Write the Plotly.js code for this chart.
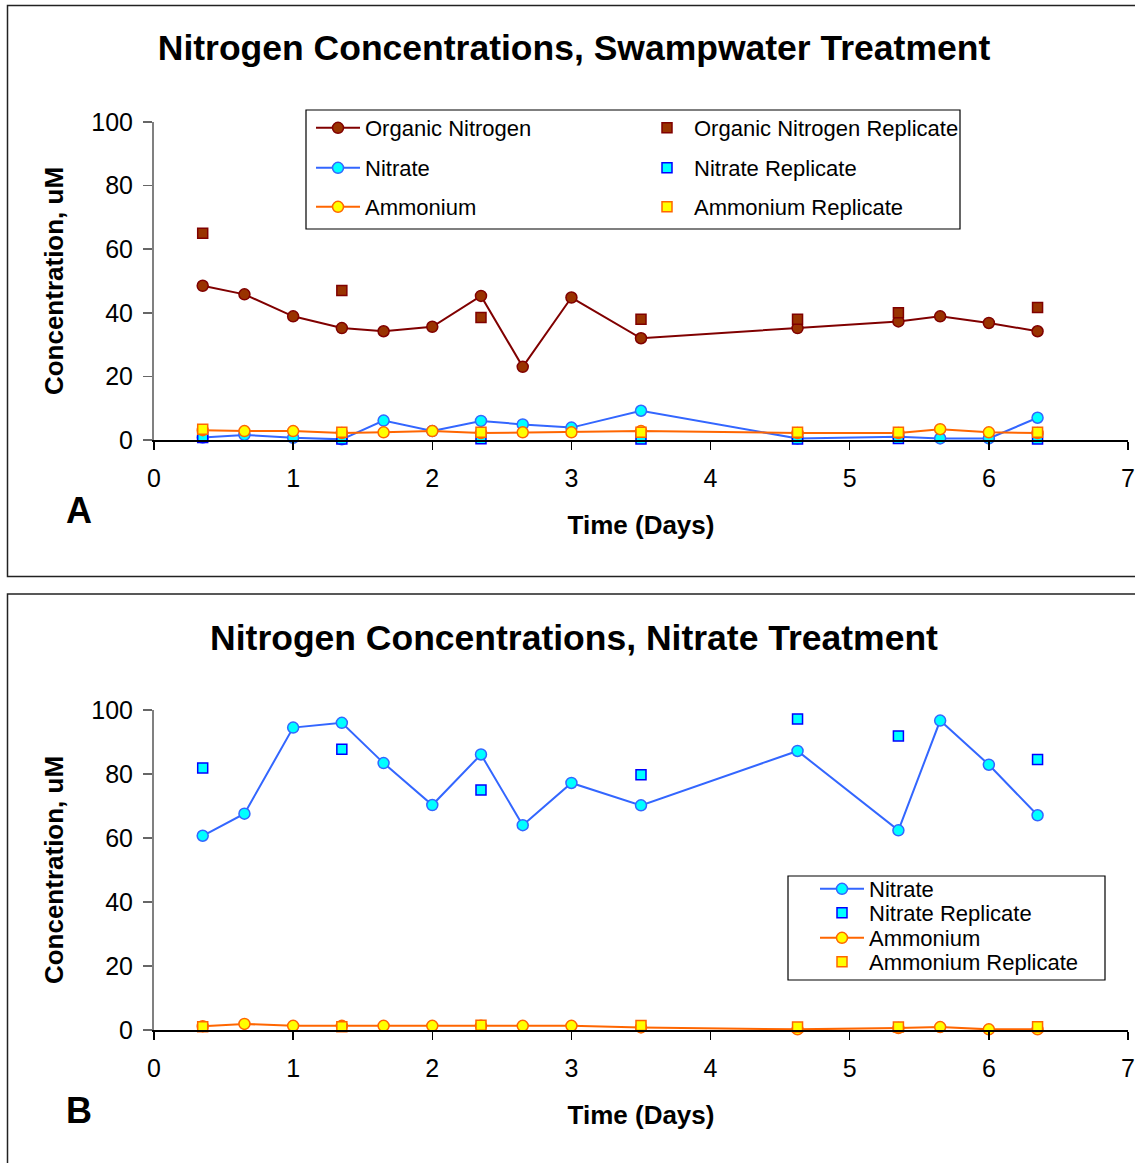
<!DOCTYPE html>
<html><head><meta charset="utf-8">
<script src="https://cdn.plot.ly/plotly-3.0.1.min.js"></script>
<style>body{margin:0;background:#fff;} #a,#b{position:absolute;left:0;width:1135px;} #a{top:0;height:586px;} #b{top:586px;height:577px;}</style>
</head><body><div id="a"></div><div id="b"></div>
<script>
// ---- data ----
var timeAll = [0.35,0.65,1.0,1.35,1.65,2.0,2.35,2.65,3.0,3.5,4.625,5.35,5.65,6.0,6.35];
var timeRep = [0.35,1.35,2.35,3.5,4.625,5.35,6.35];

var orgN_A = [48.5,45.8,38.9,35.2,34.2,35.6,45.3,23.0,44.8,32.0,35.2,37.3,38.9,36.8,34.2];
var orgNRep_A = [65.0,47.0,38.5,38.0,38.0,40.0,41.7];
var nitrate_A = [0.8,1.6,0.7,0.2,6.1,2.8,6.0,4.9,3.9,9.2,0.5,1.0,0.5,0.5,7.0];
var nitrateRep_A = [0.8,0.3,0.4,0.3,0.3,0.5,0.3];
var ammonium_A = [3.1,2.8,2.8,2.2,2.4,2.8,2.2,2.4,2.4,2.8,2.2,2.2,3.4,2.4,2.2];
var ammoniumRep_A = [3.4,2.4,2.4,2.4,2.4,2.4,2.4];

var nitrate_B = [60.7,67.6,94.5,96.0,83.4,70.3,86.1,64.0,77.2,70.2,87.2,62.4,96.7,82.9,67.1];
var nitrateRep_B = [81.9,87.7,75.0,79.8,97.2,91.9,84.5];
var ammonium_B = [1.2,1.9,1.3,1.3,1.3,1.3,1.3,1.3,1.3,0.8,0.2,0.6,0.9,0.2,0.2];
var ammoniumRep_B = [1.0,1.0,1.5,1.4,0.9,0.9,1.0];

var xTicks = [0,1,2,3,4,5,6,7];
var yTicks = [0,20,40,60,80,100];

// ---- styling ----
var FONT = 'Liberation Sans, Arial, sans-serif';
var W = 1135, L = 154, R = 7;
var styles = {
  org:    {line:'#800000', fill:'#993300', edge:'#800000'},
  orgRep: {fill:'#993300', edge:'#800000'},
  nit:    {line:'#3366FF', fill:'#00FFFF', edge:'#3366FF'},
  nitRep: {fill:'#00FFFF', edge:'#0000FF'},
  amm:    {line:'#FF6600', fill:'#FFFF00', edge:'#FF6600'},
  ammRep: {fill:'#FFFF00', edge:'#FF6600'}
};
function lineTrace(name, x, y, s, leg) {
  return {type:'scatter', mode:'lines+markers', name:name, x:x, y:y, legend:leg, cliponaxis:false,
    line:{color:s.line, width:2}, marker:{symbol:'circle', size:11, color:s.fill, line:{color:s.edge, width:1.5}}};
}
function repTrace(name, x, y, s, leg) {
  return {type:'scatter', mode:'markers', name:name, x:x, y:y, legend:leg, cliponaxis:false,
    marker:{symbol:'square', size:10, color:s.fill, line:{color:s.edge, width:1.5}}};
}

function build(H, T, B, titleText, titleY, label, labelY, frameTop, frameBot, legBox, legItems) {
  var pw = W - L - R, ph = H - T - B;
  var px = function(v){ return (v - L) / pw; };
  var py = function(v){ return 1 - (v - T) / ph; };
  var layout = {
    width: W, height: H, margin:{l:L, r:R, t:T, b:B, pad:0},
    paper_bgcolor:'#fff', plot_bgcolor:'rgba(0,0,0,0)',
    font:{family:FONT, color:'#000'},
    showlegend:true,
    title:{text:titleText, x:574/W, xref:'container', xanchor:'center', y:1 - titleY/H, yref:'container', yanchor:'middle',
      font:{family:FONT, size:35.5, weight:'bold', color:'#000'}},
    xaxis:{range:[0,7], tickvals:xTicks, ticktext:xTicks.map(String), ticks:'outside', ticklen:8, tickwidth:1.5, tickcolor:'#000',
      showline:true, linecolor:'#000', linewidth:1.5, showgrid:false, zeroline:false, ticklabelstandoff:7,
      tickfont:{family:FONT, size:25, color:'#000'},
      title:{text:'Time (Days)', font:{family:FONT, size:26, weight:'bold', color:'#000'}, standoff:25}},
    yaxis:{range:[0,100], tickvals:yTicks, ticktext:yTicks.map(String), ticks:'outside', ticklen:9, tickwidth:1.5, tickcolor:'#666',
      showline:true, linecolor:'#808080', linewidth:2, showgrid:false, zeroline:false, ticklabelstandoff:5,
      tickfont:{family:FONT, size:25, color:'#000'},
      title:{text:'Concentration, uM', font:{family:FONT, size:26, weight:'bold', color:'#000'}, standoff:20}},
    shapes:[
      {type:'rect', xref:'paper', yref:'paper', x0:px(7.5), x1:px(1150), y0:py(frameBot), y1:py(frameTop), line:{color:'#222', width:1.5}, layer:'below'},
      {type:'rect', xref:'paper', yref:'paper', x0:px(legBox[0]), x1:px(legBox[2]), y0:py(legBox[3]), y1:py(legBox[1]), line:{color:'#000', width:1.2}, fillcolor:'#fff', layer:'below'}
    ],
    annotations:[
      {text:label, xref:'paper', yref:'paper', x:px(79), y:py(labelY), xanchor:'center', yanchor:'middle', showarrow:false,
        font:{family:FONT, size:36, weight:'bold', color:'#000'}}
    ]
  };
  legItems.forEach(function(it, i){
    var key = i === 0 ? 'legend' : 'legend' + (i + 1);
    layout[key] = {x:px(it[0] - 27), y:py(it[1]), xanchor:'left', yanchor:'middle', bgcolor:'rgba(0,0,0,0)', borderwidth:0,
      itemwidth:44, font:{family:FONT, size:22, color:'#000'}, itemclick:false, itemdoubleclick:false};
  });
  return layout;
}

var dataA = [
  lineTrace('Organic Nitrogen', timeAll, orgN_A, styles.org, 'legend'),
  repTrace('Organic Nitrogen Replicate', timeRep, orgNRep_A, styles.orgRep, 'legend4'),
  lineTrace('Nitrate', timeAll, nitrate_A, styles.nit, 'legend2'),
  repTrace('Nitrate Replicate', timeRep, nitrateRep_A, styles.nitRep, 'legend5'),
  lineTrace('Ammonium', timeAll, ammonium_A, styles.amm, 'legend3'),
  repTrace('Ammonium Replicate', timeRep, ammoniumRep_A, styles.ammRep, 'legend6')
];
var layoutA = build(586, 122, 146, 'Nitrogen Concentrations, Swampwater Treatment', 48, 'A', 510, 5.5, 576.5,
  [306,110,960,229], [[338,128],[338,168],[338,207],[667,128],[667,168],[667,207]]);

var dataB = [
  lineTrace('Nitrate', timeAll, nitrate_B, styles.nit, 'legend'),
  repTrace('Nitrate Replicate', timeRep, nitrateRep_B, styles.nitRep, 'legend2'),
  lineTrace('Ammonium', timeAll, ammonium_B, styles.amm, 'legend3'),
  repTrace('Ammonium Replicate', timeRep, ammoniumRep_B, styles.ammRep, 'legend4')
];
var layoutB = build(577, 124, 133, 'Nitrogen Concentrations, Nitrate Treatment', 52, 'B', 524, 8, 600,
  [788,290,1105,394], [[842,303],[842,327],[842,352],[842,376]]);

var cfg = {staticPlot:true, displayModeBar:false};
Plotly.newPlot('a', dataA, layoutA, cfg);
Plotly.newPlot('b', dataB, layoutB, cfg);
</script></body></html>
